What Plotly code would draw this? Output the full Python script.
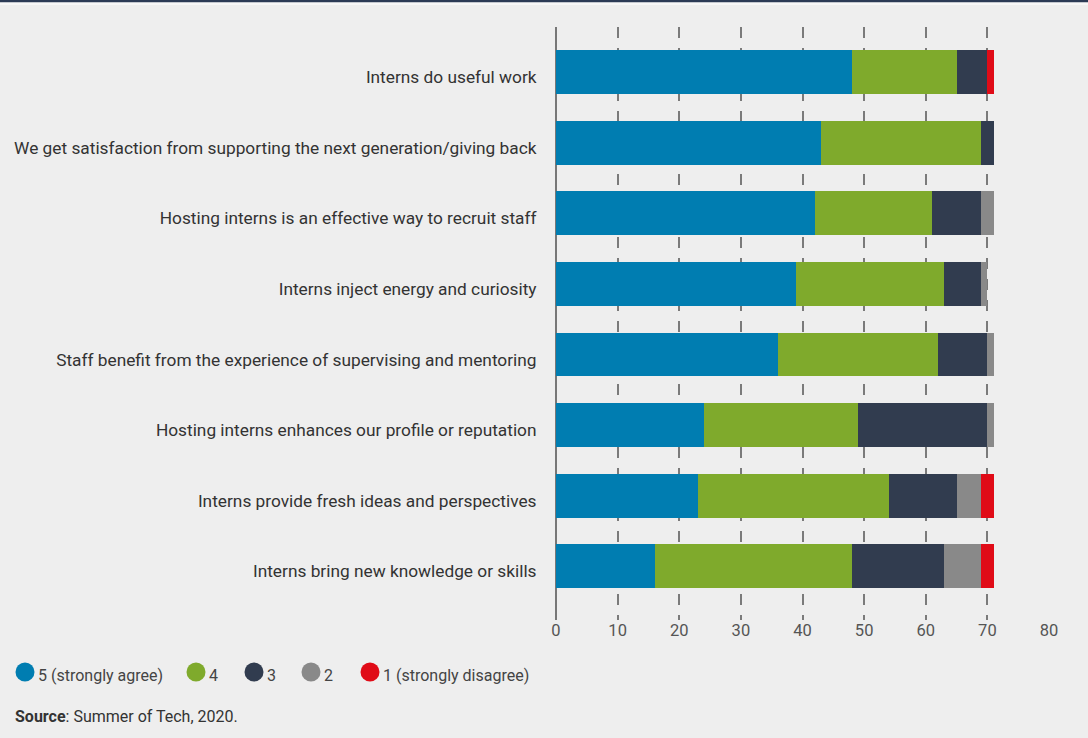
import plotly.graph_objects as go

categories = [
    "Interns do useful work",
    "We get satisfaction from supporting the next generation/giving back",
    "Hosting interns is an effective way to recruit staff",
    "Interns inject energy and curiosity",
    "Staff benefit from the experience of supervising and mentoring",
    "Hosting interns enhances our profile or reputation",
    "Interns provide fresh ideas and perspectives",
    "Interns bring new knowledge or skills",
]
s5 = [48, 43, 42, 39, 36, 24, 23, 16]
s4 = [17, 26, 19, 24, 26, 25, 31, 32]
s3 = [5, 2, 8, 6, 8, 21, 11, 15]
s2 = [0, 0, 2, 1, 1, 1, 4, 6]
s1 = [1, 0, 0, 0, 0, 0, 2, 2]
series_names = ["5 (strongly agree)", "4", "3", "2", "1 (strongly disagree)"]
series_values = [s5, s4, s3, s2, s1]
colors = ["#007db1", "#7faa2c", "#313c4f", "#898989", "#e00b17"]
x_ticks = [0, 10, 20, 30, 40, 50, 60, 70, 80]

fig = go.Figure()
for name, vals, col in zip(series_names, series_values, colors):
    fig.add_trace(go.Bar(
        y=categories, x=vals, orientation="h", name=name,
        marker=dict(color=col, line=dict(width=0)),
        showlegend=False, hoverinfo="x+y",
    ))

W, H = 1088, 738
ml, mr, mt, mb = 556, 39, 27, 118
pw = W - ml - mr
ph = H - mt - mb


def px_x(px):
    return (px - ml) / pw


def px_y(py):
    return 1 - (py - mt) / ph


fig.update_layout(
    width=W, height=H,
    margin=dict(l=ml, r=mr, t=mt, b=mb, autoexpand=False),
    barmode="stack", bargap=0.38,
    paper_bgcolor="#eeeeee", plot_bgcolor="#eeeeee",
    font=dict(family="Roboto", color="#333333", size=17),
    showlegend=False,
    xaxis=dict(
        range=[0, 80], tickvals=x_ticks, showgrid=True,
        gridcolor="#7a7a7a", gridwidth=1.5, griddash="11px,10px",
        zeroline=True, zerolinecolor="#777777", zerolinewidth=2,
        tickfont=dict(size=16.5, color="#555555"), showline=False,
        ticks="", ticklabelstandoff=-2,
    ),
    yaxis=dict(
        categoryorder="array", categoryarray=categories,
        range=[7.76, -0.64], showgrid=False, zeroline=False,
        ticks="outside", ticklen=15, tickcolor="rgba(0,0,0,0)",
        ticklabelshift=-5,
        tickfont=dict(size=17.3, color="#333333"),
    ),
)

# legend drawn as circle markers + labels
legend_circle_px = [25, 196, 254, 311, 370]
legend_y_px = 672
for name, col, cx in zip(series_names, colors, legend_circle_px):
    fig.add_shape(
        type="circle", xref="paper", yref="paper",
        xsizemode="pixel", ysizemode="pixel",
        xanchor=px_x(cx), yanchor=px_y(legend_y_px),
        x0=-9.5, x1=9.5, y0=-9.5, y1=9.5,
        fillcolor=col, line=dict(width=0),
    )
    fig.add_annotation(
        xref="paper", yref="paper",
        x=px_x(cx + 11), xanchor="left",
        y=px_y(legend_y_px + 3), yanchor="middle",
        text=name, showarrow=False,
        font=dict(size=16, color="#444444"),
    )

fig.add_annotation(
    xref="paper", yref="paper",
    x=px_x(13), xanchor="left",
    y=px_y(716), yanchor="middle",
    text="<b>Source</b>: Summer of Tech, 2020.", showarrow=False,
    font=dict(size=16, color="#333333"), align="left",
)
# top rule with thin light band beneath
fig.add_shape(
    type="rect", xref="paper", yref="paper",
    x0=px_x(0), x1=px_x(W), y0=px_y(5), y1=px_y(0),
    fillcolor="#f7f7f7", line=dict(width=0),
)
fig.add_shape(
    type="line", xref="paper", yref="paper",
    x0=px_x(0), x1=px_x(W), y0=px_y(1), y1=px_y(1),
    line=dict(color="#2b3a55", width=2.5),
)

fig.write_html(
    "out.html",
    config={"displayModeBar": False},
    post_script="document.body.style.margin='0';",
)
